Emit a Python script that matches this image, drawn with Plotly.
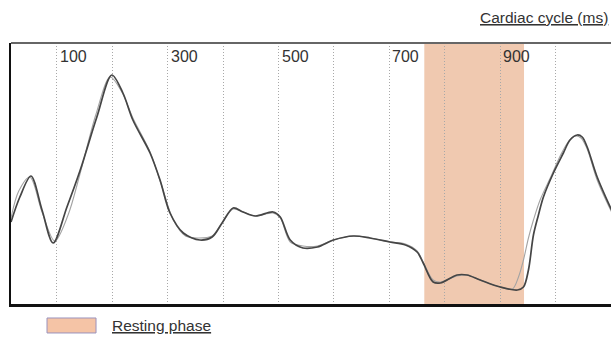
import plotly.graph_objects as go

# ---- data (time in ms, amplitude in arbitrary units) ----
time_dark = [17, 33, 53, 73, 93, 118, 142, 172, 199, 219, 237, 268, 286, 304, 328, 358, 380, 398,
             418, 436, 458, 490, 503, 521, 544, 570, 599, 635, 665, 701, 729, 750, 761, 779, 792,
             822, 840, 864, 900, 931, 942, 951, 960, 969, 978, 996, 1014, 1026, 1039, 1048, 1057,
             1075, 1101]
amp_dark = [82, 107, 128, 94, 61, 97, 134, 187, 229, 211, 184, 151, 124, 91, 71, 64, 67, 81,
            96, 92, 88, 92, 87, 64, 56, 57, 64, 68, 66, 62, 59, 52, 41, 22, 21,
            29, 29, 24, 17, 14, 17, 34, 69, 89, 107, 131, 151, 164, 169, 167, 157,
            127, 94]

time_light = [17, 31, 51, 73, 96, 120, 142, 170, 196, 217, 237, 268, 288, 310, 332, 354, 380, 398,
              418, 436, 458, 490, 503, 521, 544, 570, 599, 635, 665, 701, 729, 750, 761, 779, 792,
              822, 840, 864, 900, 922, 933, 942, 951, 960, 972, 992, 1010, 1024, 1036, 1046, 1057,
              1075, 1101]
amp_light = [86, 113, 127, 92, 63, 89, 131, 189, 227, 212, 186, 152, 120, 84, 68, 66, 68, 81,
             95, 92, 88, 91, 86, 62, 58, 58, 64, 68, 66, 62, 60, 53, 42, 24, 22,
             28, 29, 24, 17, 15, 27, 44, 66, 84, 104, 128, 150, 163, 168, 166, 155,
             124, 92]

grid_ticks = [100, 200, 300, 400, 500, 600, 700, 800, 900, 1000, 1100]
label_ticks = [100, 300, 500, 700, 900]
rest_start, rest_end = 763, 943

title_text = "Cardiac cycle (ms)"
legend_text = "Resting phase"

FONT = "Liberation Sans, Arial, sans-serif"

fig = go.Figure()
fig.add_trace(go.Scatter(x=time_light, y=amp_light, mode="lines",
                         line=dict(color="#a3a3a3", width=1.1, shape="spline", smoothing=0.9),
                         hoverinfo="skip", showlegend=False))
fig.add_trace(go.Scatter(x=time_dark, y=amp_dark, mode="lines",
                         line=dict(color="#454545", width=1.7, shape="spline", smoothing=0.9),
                         hoverinfo="skip", showlegend=False))

# resting phase band
fig.add_shape(type="rect", xref="x", yref="paper", x0=rest_start, x1=rest_end, y0=0, y1=1,
              fillcolor="#F0C9B0", line=dict(width=0), layer="below")

# top-of-plot tick labels
for t in label_ticks:
    fig.add_annotation(x=t, y=0.950, xref="x", yref="paper", text=str(t), showarrow=False,
                       xanchor="left", yanchor="middle", xshift=1,
                       font=dict(family=FONT, size=16, color="#333333"))

# title
fig.add_annotation(x=0.998, y=1.096, xref="paper", yref="paper", text="<u>" + title_text + "</u>",
                   showarrow=False, xanchor="right", yanchor="middle",
                   font=dict(family=FONT, size=15.5, color="#333333"))

# legend
fig.add_shape(type="rect", xref="paper", yref="paper", x0=0.06, x1=0.1417, y0=-0.111, y1=-0.0536,
              fillcolor="#F5C4A6", line=dict(color="#9a92bd", width=1))
fig.add_annotation(x=0.165, y=-0.084, xref="paper", yref="paper", text="<u>" + legend_text + "</u>",
                   showarrow=False, xanchor="left", yanchor="middle",
                   font=dict(family=FONT, size=15.5, color="#333333"))

# frame: top (gray), left and bottom (black)
fig.add_shape(type="line", xref="paper", yref="paper", x0=0, x1=1, y0=1, y1=1,
              line=dict(color="#666666", width=2))

fig.update_layout(
    width=611, height=338,
    margin=dict(l=11, r=0, t=43, b=34),
    paper_bgcolor="white", plot_bgcolor="rgba(0,0,0,0)",
    xaxis=dict(range=[17, 1100], tickvals=grid_ticks, showticklabels=False, ticks="",
               showgrid=True, gridcolor="#a8a8a8", gridwidth=1, griddash="1px,2px",
               zeroline=False, showline=True, linecolor="#111111", linewidth=2.5),
    yaxis=dict(range=[0, 261], showticklabels=False, ticks="", showgrid=False,
               zeroline=False, showline=True, linecolor="#111111", linewidth=2),
)

fig.write_html("out.html",
               config={"displayModeBar": False},
               post_script="document.body.style.margin='0';document.body.style.overflow='hidden';")
